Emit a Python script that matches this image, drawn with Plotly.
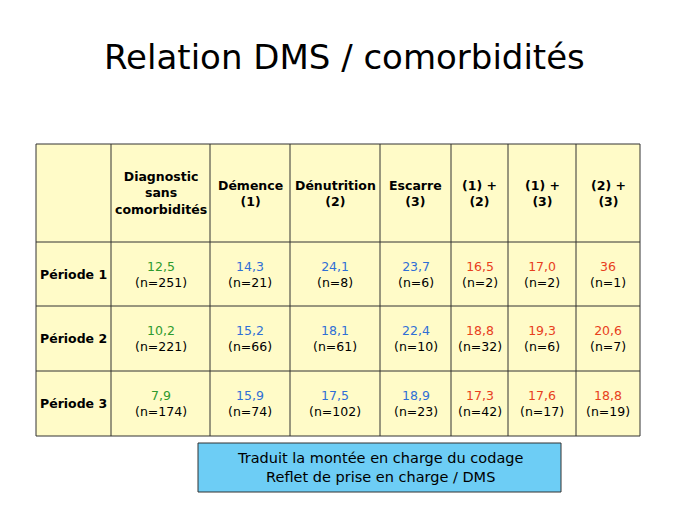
import plotly.graph_objects as go

title = "Relation DMS / comorbidités"
columns = ["Diagnostic<br>sans<br>comorbidités", "Démence<br>(1)", "Dénutrition<br>(2)", "Escarre<br>(3)",
           "(1) +<br>(2)", "(1) +<br>(3)", "(2) +<br>(3)"]
periods = ["Période 1", "Période 2", "Période 3"]
dms = [["12,5", "14,3", "24,1", "23,7", "16,5", "17,0", "36"],
       ["10,2", "15,2", "18,1", "22,4", "18,8", "19,3", "20,6"],
       ["7,9", "15,9", "17,5", "18,9", "17,3", "17,6", "18,8"]]
counts = [[251, 21, 8, 6, 2, 2, 1],
          [221, 66, 61, 10, 32, 6, 7],
          [174, 74, 102, 23, 42, 17, 19]]
note = "Traduit la montée en charge du codage<br>Reflet de prise en charge / DMS"

OFF = 8
col_edges = [c - OFF for c in [36, 111, 210, 290, 380, 451, 508, 576, 640]]
row_edges = [r - OFF for r in [144, 242, 306, 371, 436]]
col_colors = ["#2e9a2e", "#2f6fd6", "#2f6fd6", "#2f6fd6", "#e8401c", "#e8401c", "#e8401c"]
FONT = "DejaVu Sans"

fig = go.Figure()
shapes, ann = [], []
shapes.append(dict(type="rect", xref="x", yref="y", x0=col_edges[0], x1=col_edges[-1],
                   y0=row_edges[0], y1=row_edges[-1], fillcolor="#fffbc8",
                   line=dict(color="#333333", width=1), layer="below"))
for x in col_edges[1:-1]:
    shapes.append(dict(type="line", xref="x", yref="y", x0=x, x1=x, y0=row_edges[0], y1=row_edges[-1],
                       line=dict(color="#333333", width=1)))
for y in row_edges[1:-1]:
    shapes.append(dict(type="line", xref="x", yref="y", x0=col_edges[0], x1=col_edges[-1], y0=y, y1=y,
                       line=dict(color="#333333", width=1)))

def cx(i):
    return (col_edges[i] + col_edges[i + 1]) / 2

def cy(j):
    return (row_edges[j] + row_edges[j + 1]) / 2

for i, c in enumerate(columns):
    ann.append(dict(x=cx(i + 1), y=cy(0), text="<b>" + c + "</b>", showarrow=False,
                    font=dict(family=FONT, size=12.5, color="black")))
for j, p in enumerate(periods):
    ann.append(dict(x=cx(0), y=cy(j + 1), text="<b>" + p + "</b>", showarrow=False,
                    font=dict(family=FONT, size=12.5, color="black")))
    for i in range(len(columns)):
        txt = f"<span style='color:{col_colors[i]}'>{dms[j][i]}</span><br>(n={counts[j][i]})"
        ann.append(dict(x=cx(i + 1), y=cy(j + 1), text=txt, showarrow=False,
                        font=dict(family=FONT, size=12.5, color="black")))

shapes.append(dict(type="rect", xref="x", yref="y", x0=198 - OFF, x1=561 - OFF, y0=443 - OFF, y1=492 - OFF,
                   fillcolor="#6dcdf5", line=dict(color="#333333", width=1)))
ann.append(dict(x=379.5 - OFF, y=467.5 - OFF, text=note, showarrow=False,
                font=dict(family=FONT, size=14.5, color="black")))
ann.append(dict(x=344.5 - OFF, y=57 - OFF, text=title, showarrow=False,
                font=dict(family=FONT, size=34, color="black")))

fig.update_layout(width=689, height=517, margin=dict(l=0, r=0, t=0, b=0),
                  paper_bgcolor="white", plot_bgcolor="white", shapes=shapes, annotations=ann,
                  xaxis=dict(range=[0, 689], visible=False, fixedrange=True),
                  yaxis=dict(range=[517, 0], visible=False, fixedrange=True),
                  showlegend=False)
fig.write_html("out.html")
